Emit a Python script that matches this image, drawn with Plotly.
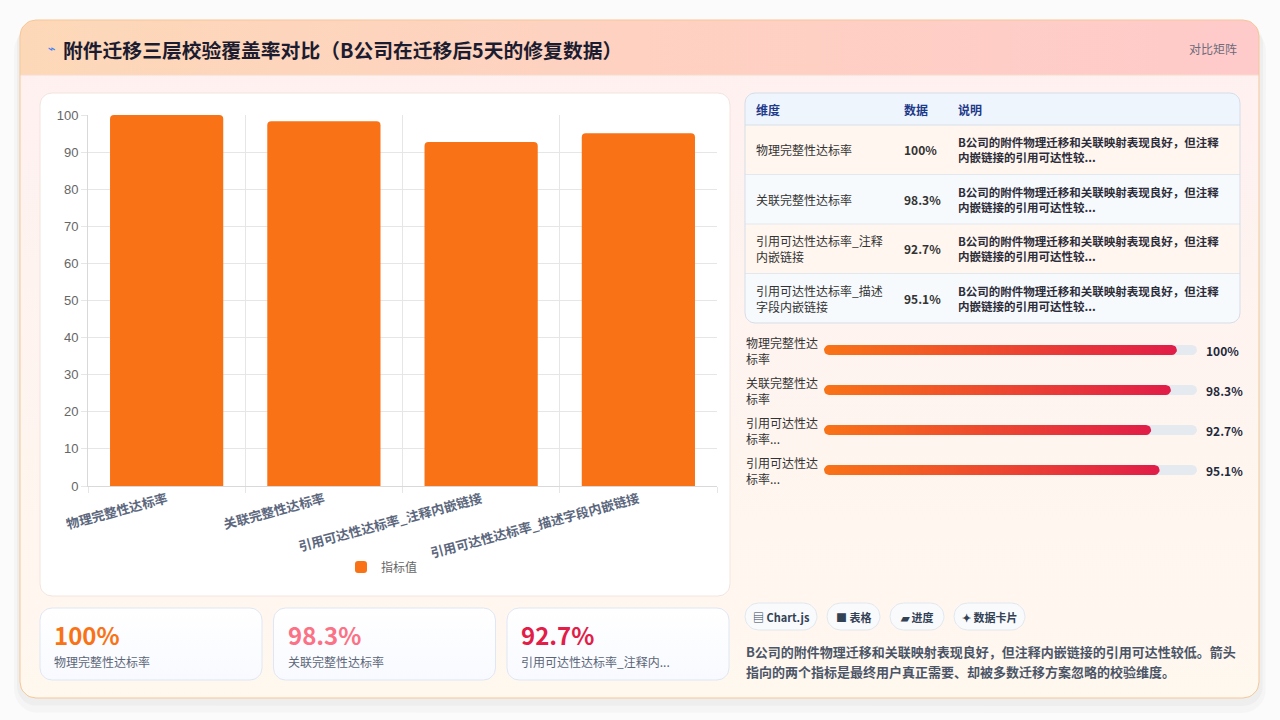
import numpy as np
import plotly.graph_objects as go

# chart data
categories = ["物理完整性达标率", "关联完整性达标率",
              "引用可达性达标率_注释内嵌链接", "引用可达性达标率_描述字段内嵌链接"]
values = [100, 98.3, 92.7, 95.1]
series_name = "指标值"

title = "附件迁移三层校验覆盖率对比（B公司在迁移后5天的修复数据）"
badge = "对比矩阵"
table_header = ["维度", "数据", "说明"]
note = "B公司的附件物理迁移和关联映射表现良好，但注释<br>内嵌链接的引用可达性较..."
chips = ["▤ Chart.js", "■ 表格", "▰ 进度", "✦ 数据卡片"]
summary_lines = ["B公司的附件物理迁移和关联映射表现良好，但注释内嵌链接的引用可达性较低。箭头",
                 "指向的两个指标是最终用户真正需要、却被多数迁移方案忽略的校验维度。"]

kpi_colors = ["#f97316", "#fb7185", "#e11d48"]
CJK = "Noto Sans CJK SC, Noto Sans, sans-serif"
TRACK_MAX = 105.7   # progress track is a bit longer than 100%

fig = go.Figure()


def rrect(x0, y0, x1, y1, r, tl=True, tr=True, br=True, bl=True):
    """Rounded rectangle outline in pixel coords (y grows downwards)."""
    t = np.linspace(0, np.pi / 2, 9)
    xs, ys = [], []
    if tl:
        xs += list(x0 + r - r * np.cos(t)); ys += list(y0 + r - r * np.sin(t))
    else:
        xs.append(x0); ys.append(y0)
    if tr:
        xs += list(x1 - r + r * np.sin(t)); ys += list(y0 + r - r * np.cos(t))
    else:
        xs.append(x1); ys.append(y0)
    if br:
        xs += list(x1 - r + r * np.cos(t)); ys += list(y1 - r + r * np.sin(t))
    else:
        xs.append(x1); ys.append(y1)
    if bl:
        xs += list(x0 + r - r * np.sin(t)); ys += list(y1 - r + r * np.cos(t))
    else:
        xs.append(x0); ys.append(y1)
    xs.append(xs[0]); ys.append(ys[0])
    return xs, ys


def box(x0, y0, x1, y1, r, fill=None, line=None, width=1, gradient=None, **corners):
    xs, ys = rrect(x0, y0, x1, y1, r, **corners)
    fig.add_trace(go.Scatter(
        x=xs, y=ys, mode="lines", xaxis="x", yaxis="y",
        fill="toself" if (fill or gradient) else "none",
        fillcolor=fill, fillgradient=gradient,
        line=dict(color=line or "rgba(0,0,0,0)", width=width if line else 0),
        hoverinfo="skip", showlegend=False))


def text(x, y, s, size=12, color="#333333", bold=False, anchor="left", family=CJK):
    fig.add_annotation(x=x, y=y, xref="x", yref="y", text=f"<b>{s}</b>" if bold else s,
                       showarrow=False, xanchor=anchor, yanchor="middle", align="left",
                       font=dict(size=size, color=color, family=family))


# page card + shadow
box(14, 27, 1266, 713, 24, fill="rgba(0,0,0,0.022)")
box(17, 23, 1263, 706, 20, fill="rgba(0,0,0,0.028)")
box(20, 20, 1259, 698, 16,
    gradient=dict(type="vertical", colorscale=[[0, "#fff8ef"], [1, "#fef0f0"]]))
box(20, 20, 1259, 75, 16, br=False, bl=False,
    gradient=dict(type="horizontal", colorscale=[[0, "#fdd8b8"], [1, "#ffcaca"]]))
fig.add_trace(go.Scatter(x=[20, 1259], y=[75, 75], mode="lines", xaxis="x", yaxis="y",
                         line=dict(color="#f6dccb", width=1), hoverinfo="skip", showlegend=False))
box(20, 20, 1259, 698, 16, line="#f5c796", width=1)

# chart card
box(40, 93, 730, 596, 12, fill="#ffffff", line="#f3e4de")

# KPI cards
for i in range(3):
    x0 = 40 + i * 233.5
    box(x0, 608, x0 + 222, 680, 12, line="#dfe6f5",
        gradient=dict(type="vertical", colorscale=[[0, "#f8faff"], [1, "#ffffff"]]))

# table backgrounds
row_h = 49.5
box(745, 93, 1240, 125, 10, fill="#eef5fd", br=False, bl=False)
for i in range(len(categories)):
    top = 125 + i * row_h
    last = i == len(categories) - 1
    box(745, top, 1240, top + row_h, 10, fill="#fff6ef" if i % 2 == 0 else "#f7fafd",
        tl=False, tr=False, br=last, bl=last)
sep_x, sep_y = [], []
for i in range(1, len(categories)):
    sep_x += [745, 1240, None]
    sep_y += [125 + i * row_h] * 2 + [None]
fig.add_trace(go.Scatter(x=sep_x, y=sep_y, mode="lines", xaxis="x", yaxis="y",
                         line=dict(color="#e3e8ef", width=1), hoverinfo="skip", showlegend=False))
fig.add_trace(go.Scatter(x=[745, 1240], y=[125, 125], mode="lines", xaxis="x", yaxis="y",
                         line=dict(color="#d7dfea", width=1), hoverinfo="skip", showlegend=False))
box(745, 93, 1240, 323, 10, line="#d5dde8")

# chips
chip_w = [72, 53, 54, 71]
cx = 745
for label, w in zip(chips, chip_w):
    box(cx, 603, cx + w, 630, 13.5, fill="#f8fafc", line="#e2e8f0")
    text(cx + w / 2, 616.5, label, size=11, color="#334155", bold=True, anchor="center")
    cx += w + 10

# bar chart
fig.add_trace(go.Bar(
    x=categories, y=values, name=series_name, xaxis="x2", yaxis="y2",
    marker=dict(color="#f97316", cornerradius=4, line=dict(width=0)),
    hovertemplate="%{x}: %{y}<extra></extra>"))

# progress bars
rx = 5 / (373 / TRACK_MAX)
hy = 5 / 40


def pill(x1, yc):
    a = np.linspace(-np.pi / 2, np.pi / 2, 11)
    xs = list(x1 - rx + rx * np.cos(a)) + list(rx - rx * np.cos(a))
    ys = list(yc + hy * np.sin(a)) + list(yc - hy * np.sin(a))
    return xs + [xs[0]], ys + [ys[0]]


for i, v in enumerate(values):
    xs, ys = pill(TRACK_MAX, i)
    fig.add_trace(go.Scatter(x=xs, y=ys, mode="lines", fill="toself", fillcolor="#e5e9f0",
                             line=dict(width=0), xaxis="x3", yaxis="y3",
                             hoverinfo="skip", showlegend=False))
    xs, ys = pill(v, i)
    fig.add_trace(go.Scatter(x=xs, y=ys, mode="lines", fill="toself",
                             fillgradient=dict(type="horizontal",
                                               colorscale=[[0, "#f97316"], [1, "#e11d48"]]),
                             line=dict(width=0), xaxis="x3", yaxis="y3",
                             hoverinfo="skip", showlegend=False))
    label = categories[i][:6] + "<br>" + (categories[i][6:] if len(categories[i]) <= 8
                                           else categories[i][6:8] + "...")
    text(744, 350 + 40 * i, label, size=12, color="#333333")
    text(1204, 350 + 40 * i, f"{v:g}%", size=12, color="#1e293b", bold=True)

# header texts
text(46, 48, "⌁", size=13, color="#3b82f6", family="DejaVu Sans")
text(61, 49, title, size=19.8, color="#1c1c30", bold=True)
text(1239, 48, badge, size=12, color="#6b6b7b", anchor="right")

# table texts
for j, (hx, h) in enumerate(zip([754, 902, 956], table_header)):
    text(hx, 109, h, size=12, color="#1e3a8a", bold=True)
for i, (c, v) in enumerate(zip(categories, values)):
    yc = 125 + i * row_h + row_h / 2
    dim = c if len(c) <= 11 else c[:11] + "<br>" + c[11:]
    text(754, yc, dim, size=12, color="#333333")
    text(902, yc, f"{v:g}%", size=12, color="#333333", bold=True)
    text(956, yc, note, size=11.5, color="#2d2d3a", bold=True)

# KPI texts
for i in range(3):
    x0 = 40 + i * 233.5
    c = categories[i]
    text(x0 + 12, 634, f"{values[i]:g}%", size=24, color=kpi_colors[i], bold=True)
    text(x0 + 12, 661, c if len(c) <= 12 else c[:12] + "...", size=12, color="#5b6577")

# summary
for k, line in enumerate(summary_lines):
    text(744, 651 + 20 * k, line, size=13, color="#4b5567", bold=True)

fig.update_layout(
    width=1280, height=720, autosize=False,
    margin=dict(l=0, r=0, t=0, b=0, pad=0, autoexpand=False),
    paper_bgcolor="#fbfbfb", plot_bgcolor="rgba(0,0,0,0)",
    bargap=0.28,
    xaxis=dict(domain=[0, 1], range=[0, 1280], visible=False, fixedrange=True),
    yaxis=dict(domain=[0, 1], range=[720, 0], visible=False, fixedrange=True),
    xaxis2=dict(domain=[88 / 1280, 717 / 1280], anchor="y2", type="category",
                tickson="boundaries", showgrid=True, gridcolor="#e6e6e6",
                ticks="outside", ticklen=6, tickcolor="#e6e6e6",
                showline=True, linecolor="#d9d9d9", tickangle=-15,
                tickfont=dict(size=13, color="#5c677d", family=CJK, weight=600)),
    yaxis2=dict(domain=[1 - 486 / 720, 1 - 115 / 720], anchor="x2", range=[0, 100], dtick=10,
                showgrid=True, gridcolor="#e6e6e6", zeroline=False,
                ticks="outside", ticklen=6, tickcolor="#e6e6e6",
                showline=True, linecolor="#d9d9d9",
                tickfont=dict(size=13, color="#666666", family="Liberation Sans, Arial")),
    xaxis3=dict(domain=[824 / 1280, 1197 / 1280], anchor="y3", range=[0, TRACK_MAX],
                visible=False, fixedrange=True),
    yaxis3=dict(domain=[1 - 490 / 720, 1 - 330 / 720], anchor="x3", range=[3.5, -0.5],
                visible=False, fixedrange=True),
    showlegend=True,
    legend=dict(orientation="h", x=382 / 1280, xanchor="center", y=1 - 567 / 720,
                yanchor="middle", bgcolor="rgba(0,0,0,0)",
                font=dict(size=12, color="#666666", family=CJK)),
)

# drop the default 8px body margin so the figure sits at the window origin
fig.write_html("out.html", config={"displayModeBar": False},
               post_script="document.body.style.margin = '0';")
